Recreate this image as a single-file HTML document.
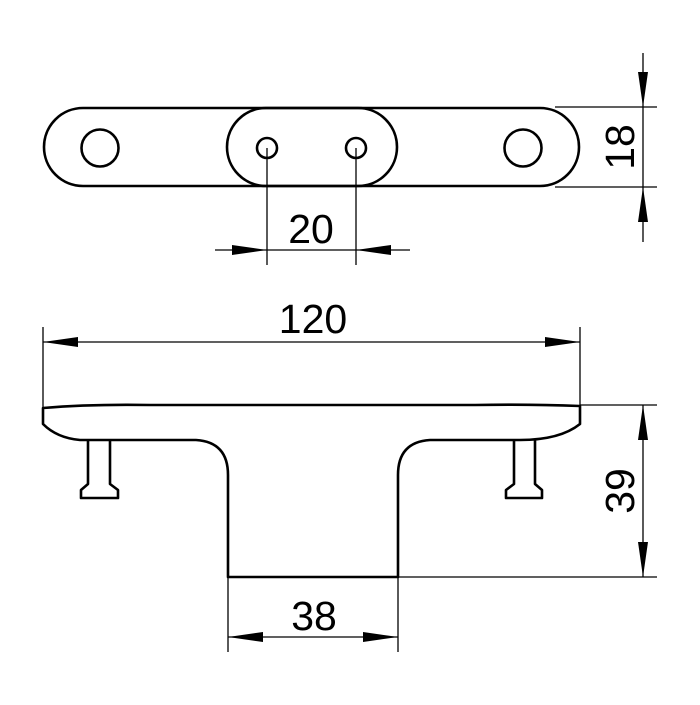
<!DOCTYPE html>
<html><head><style>html,body{margin:0;padding:0;background:#fff}</style></head>
<body>
<svg width="700" height="700" viewBox="0 0 700 700" xmlns="http://www.w3.org/2000/svg">
<g fill="none" stroke="#000" stroke-width="2.6" stroke-linejoin="round">
<path d="M83,108 L540,108 A39,39 0 0 1 540,186 L83,186 A39,39 0 0 1 83,108 Z"/>
<path d="M266,108 L358,108 A39,39 0 0 1 358,186 L266,186 A39,39 0 0 1 266,108 Z"/>
<circle cx="100" cy="148" r="18.5"/>
<circle cx="523" cy="148" r="18.5"/>
<circle cx="267" cy="148" r="10"/>
<circle cx="356" cy="148" r="10"/>
<path d="M43,408 Q90,404 150,405 L475,405 Q530,404 580,406 L580,424 Q560,440 520,440 L430,440 Q398,442 398,475 L398,577 L228,577 L228,475 Q228,442 196,440 L80,440 Q57,438 43,424 Z"/>
<path d="M88,440 L88,484 L81,490 L81,498 L118,498 L118,490 L110,484 L110,440"/>
<path d="M514,440 L514,484 L506,490 L506,498 L542,498 L542,490 L535,484 L535,440"/>
</g>
<g stroke="#000" stroke-width="1.3" fill="none">
<line x1="267" y1="148" x2="267" y2="265"/>
<line x1="356" y1="148" x2="356" y2="265"/>
<line x1="215" y1="250" x2="410" y2="250"/>
<line x1="555" y1="107" x2="657" y2="107"/>
<line x1="555" y1="187" x2="657" y2="187"/>
<line x1="643" y1="53" x2="643" y2="242"/>
<line x1="43" y1="327" x2="43" y2="408"/>
<line x1="580" y1="327" x2="580" y2="406"/>
<line x1="43" y1="342" x2="580" y2="342"/>
<line x1="580" y1="405" x2="657" y2="405"/>
<line x1="398" y1="577" x2="657" y2="577"/>
<line x1="643" y1="405" x2="643" y2="577"/>
<line x1="228" y1="577" x2="228" y2="652"/>
<line x1="398" y1="577" x2="398" y2="652"/>
<line x1="228" y1="637" x2="398" y2="637"/>
</g>
<g fill="#000">
<polygon points="267,250 232,245 232,255"/>
<polygon points="356,250 391,245 391,255"/>
<polygon points="643,107 638,72 648,72"/>
<polygon points="643,187 638,222 648,222"/>
<polygon points="43,342 78,337 78,347"/>
<polygon points="580,342 545,337 545,347"/>
<polygon points="643,405 638,440 648,440"/>
<polygon points="643,577 638,542 648,542"/>
<polygon points="228,637 263,632 263,642"/>
<polygon points="398,637 363,632 363,642"/>
</g>
<g font-family="Liberation Sans, sans-serif" font-size="41" fill="#000" text-anchor="middle">
<text x="311" y="243">20</text>
<text x="313" y="333">120</text>
<text x="314" y="630">38</text>
<text transform="translate(634,147) rotate(-90)">18</text>
<text transform="translate(634,491) rotate(-90)">39</text>
</g>
</svg>
</body></html>
